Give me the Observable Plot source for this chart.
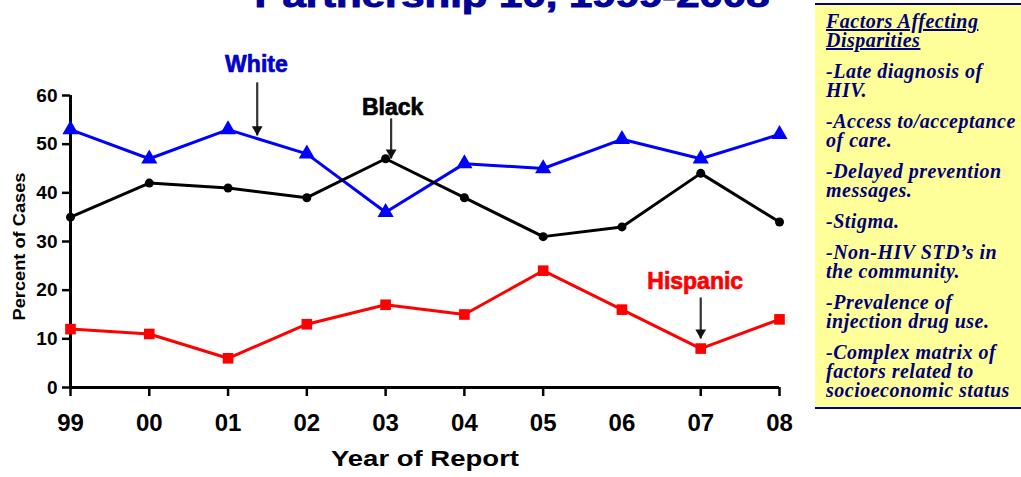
<!DOCTYPE html>
<html>
<head>
<meta charset="utf-8">
<script src="https://cdn.jsdelivr.net/npm/d3@7"></script>
<script src="https://cdn.jsdelivr.net/npm/@observablehq/plot@0.6"></script>
<style>
  html, body { margin: 0; padding: 0; background: #fff; }
  #wrap { position: relative; width: 1021px; height: 477px; overflow: hidden; }
  #title { position: absolute; left: 0; top: 0; }
  #chart { position: absolute; left: 0; top: 0; }
  #box {
    position: absolute; left: 815px; top: 3px; width: 206px; height: 406px;
    background: #FFFF99; border-top: 2px solid #000080; border-bottom: 2px solid #000080;
    box-sizing: border-box; padding: 7px 2px 0 11px;
    font-family: "Liberation Serif", "Times New Roman", serif; font-style: italic; font-weight: bold;
    font-size: 20px; line-height: 19px; letter-spacing: 0.5px; color: #00007A;
  }
  #box p { margin: 0 0 12px 0; }
  #box p.head { text-decoration: underline; }
</style>
</head>
<body>
<div id="wrap">
  <div id="chart"></div>
  <svg id="title" width="1021" height="20"></svg>
  <div id="box"></div>
</div>
<script>
const years = [1999, 2000, 2001, 2002, 2003, 2004, 2005, 2006, 2007, 2008];
const yearLabels = ["99", "00", "01", "02", "03", "04", "05", "06", "07", "08"];
const tickMarkYears = [1999, 2000, 2001, 2002, 2003, 2004, 2005, 2007, 2008];
const white = [53, 47, 53, 48, 36, 46, 45, 51, 47, 52];
const black = [35, 42, 41, 39, 47, 39, 31, 33, 44, 34];
const hispanic = [12, 11, 6, 13, 17, 15, 24, 16, 8, 14];
const yTicks = [0, 10, 20, 30, 40, 50, 60];
const titleText = "Partnership 10, 1999-2008";
const yTitle = "Percent of Cases";
const xTitle = "Year of Report";
const factorsHeading = "Factors Affecting Disparities";
const factors = [
  "-Late diagnosis of HIV.",
  "-Access to/acceptance of care.",
  "-Delayed prevention messages.",
  "-Stigma.",
  "-Non-HIV STD\u2019s in the community.",
  "-Prevalence of injection drug use.",
  "-Complex matrix of factors related to socioeconomic status"
];
// annotation labels and arrows, in data units
const labels = [
  {name: "White", color: "#0000CC", x: 2001.36, y: 66.3, ax: 2001.37, ay1: 62.7, ay2: 51.8},
  {name: "Black", color: "#000000", x: 2003.09, y: 57.6, ax: 2003.07, ay1: 55.3, ay2: 47.05},
  {name: "Hispanic", color: "#FF0000", x: 2006.93, y: 21.8, ax: 2007.0, ay1: 18.5, ay2: 10.07}
];

const series = [
  {name: "White", values: white, color: "#0000FF", symbol: "triangle", r: 6},
  {name: "Black", values: black, color: "#000000", symbol: "circle", r: 4.5},
  {name: "Hispanic", values: hispanic, color: "#FF0000", symbol: "square", r: 6}
];
const rows = series.flatMap(s => s.values.map((v, i) => ({series: s.name, year: years[i], value: v})));
const fmt = d => yearLabels[years.indexOf(d)];

const plot = Plot.plot({
  width: 815, height: 477,
  marginLeft: 70, marginRight: 36, marginTop: 95, marginBottom: 90,
  style: {fontFamily: "'Liberation Sans', Arial, sans-serif", fontWeight: "bold", fontSize: "18px", color: "#000", background: "transparent"},
  x: {domain: [1999, 2008], label: null},
  y: {domain: [0, 60], label: null},
  marks: [
    Plot.axisX({ticks: years, tickFormat: fmt, tickSize: 0, tickPadding: 26, fontSize: 24, fontWeight: "bold", label: null}),
    Plot.axisX({ticks: tickMarkYears, tickFormat: () => "", tickSize: 9, strokeWidth: 2.5, label: null}),
    Plot.axisY({ticks: yTicks, tickSize: 8, tickPadding: 5, strokeWidth: 2.5, fontSize: 19, fontWeight: "bold", label: null}),
    Plot.ruleY([0], {stroke: "#000", strokeWidth: 3}),
    Plot.ruleX([1999], {stroke: "#000", strokeWidth: 3}),
    ...series.map(s => Plot.line(rows.filter(d => d.series === s.name), {x: "year", y: "value", stroke: s.color, strokeWidth: 3})),
    ...series.map(s => Plot.dot(rows.filter(d => d.series === s.name), {x: "year", y: "value", fill: s.color, symbol: s.symbol, r: s.r, stroke: "none"})),
    Plot.link(labels, {x1: "ax", x2: "ax", y1: "ay1", y2: "ay2", stroke: "#333", strokeWidth: 2.2}),
    Plot.dot(labels, {x: "ax", y: "ay2", symbol: "triangle", rotate: 180, r: 4, fill: "#111", dy: -6}),
    Plot.text(labels, {x: "x", y: "y", text: "name", fill: "color", fontSize: 23, fontWeight: "bold", stroke: "color", strokeWidth: 0.7}),
    Plot.text([yTitle], {frameAnchor: "left", dx: -51, dy: 5, text: d => d, rotate: -90, textAnchor: "middle", fontSize: 16, fontWeight: "bold", fill: "#000"}),
    Plot.text([xTitle], {frameAnchor: "bottom", dy: 78, text: d => d, fontSize: 22, fontWeight: "bold", fill: "#000"})
  ]
});
document.getElementById("chart").appendChild(plot);

// stretch axis titles to the reference's wide lettering
d3.select(plot).selectAll("text").filter(function() { return this.textContent === xTitle; })
  .attr("textLength", 188).attr("lengthAdjust", "spacingAndGlyphs");
d3.select(plot).selectAll("text").filter(function() { return this.textContent === yTitle; })
  .attr("textLength", 148).attr("lengthAdjust", "spacingAndGlyphs");

d3.select("#title").append("text")
  .attr("x", 512).attr("y", 7).attr("text-anchor", "middle")
  .attr("font-family", "'Liberation Sans', Arial, sans-serif").attr("font-weight", "bold")
  .attr("font-size", 34).attr("fill", "#000099").attr("stroke", "#000099").attr("stroke-width", 1)
  .attr("textLength", 515).attr("lengthAdjust", "spacingAndGlyphs")
  .text(titleText);

const box = d3.select("#box");
box.append("p").attr("class", "head").text(factorsHeading);
factors.forEach(f => box.append("p").text(f));
</script>
</body>
</html>
